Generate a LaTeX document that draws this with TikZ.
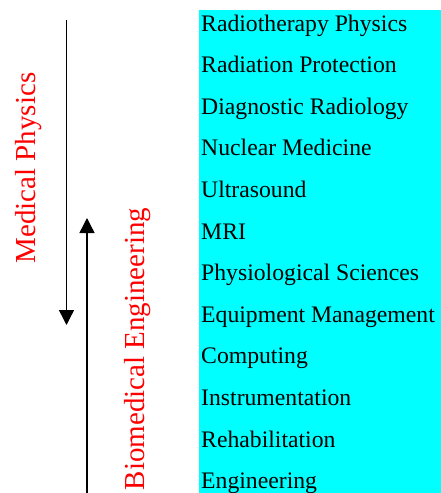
\documentclass[tikz,border=0pt]{standalone}
\usepackage{fontspec}
\setmainfont{Liberation Serif}
\usetikzlibrary{arrows.meta}
\definecolor{boxcyan}{RGB}{0,255,255}
\tikzset{
  item/.style={anchor=base west, inner sep=0pt, font=\fontsize{23.7}{24}\selectfont},
  redlabel/.style={rotate=90, inner sep=0pt, text=red, font=\fontsize{29}{29}\selectfont},
  arr/.style={line width=1.4pt, -{Triangle[length=15pt,width=15pt]}}
}
\begin{document}
\begin{tikzpicture}[x=1pt,y=-1pt]
\useasboundingbox (0,0) rectangle (441,493);
\fill[boxcyan] (199,10) rectangle (441,493);
\foreach \t [count=\i from 0] in {Radiotherapy Physics,Radiation Protection,Diagnostic Radiology,Nuclear Medicine,Ultrasound,MRI,Physiological Sciences,Equipment Management,Computing,Instrumentation,Rehabilitation,Engineering}
  \node[item] (it\i) at (201,{31+41.6*\i}) {\t};
\node[redlabel] (mp) at (28.5,168) {Medical Physics};
\node[redlabel] (be) at (138,349) {Biomedical Engineering};
\coordinate (a1s) at (66.5,20);
\coordinate (a1e) at (66.5,325);
\coordinate (a2s) at (87,493);
\coordinate (a2e) at (87,218);
\draw[arr] (a1s) -- (a1e);
\draw[arr] (a2s) -- (a2e);
\end{tikzpicture}
\end{document}
